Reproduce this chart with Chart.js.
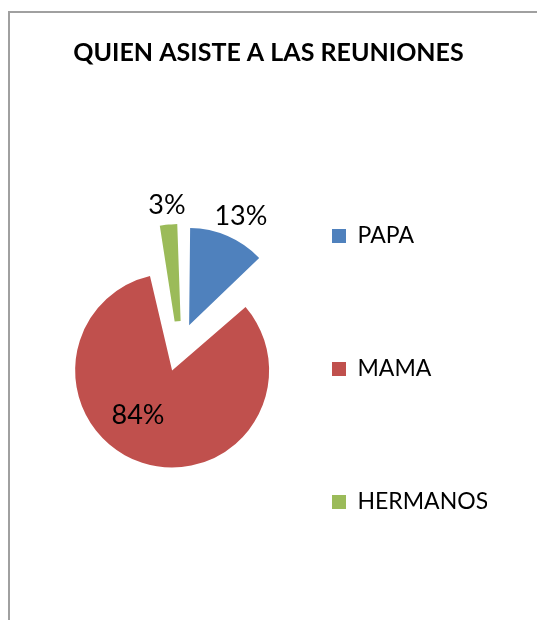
<!DOCTYPE html>
<html><head><meta charset="utf-8">
<script src="https://cdn.jsdelivr.net/npm/chart.js@4.4.1/dist/chart.umd.min.js"></script>
<style>
html,body{margin:0;padding:0;background:#fff;overflow:hidden}
#wrap{position:relative;width:537px;height:620px;overflow:hidden}
#frame{position:absolute;left:8px;top:11px;width:700px;height:800px;border-left:2px solid #a0a0a0;border-top:2px solid #a0a0a0;pointer-events:none}
canvas{position:absolute;left:0;top:0}
</style></head><body>
<div id="wrap">
<canvas id="c" width="537" height="620"></canvas>
<canvas id="c1" width="537" height="620"></canvas>
<canvas id="c2" width="537" height="620"></canvas>
<div id="frame"></div>
</div>
<script>
const titleText = 'QUIEN ASISTE A LAS REUNIONES';
const categories = ['PAPA', 'MAMA', 'HERMANOS'];
const percentages = [13, 84, 3];
const valueLabels = ['13%', '84%', '3%'];
const sliceColors = ['#4F81BD', '#C0504D', '#9BBB59'];

const NONE = 'rgba(0,0,0,0)';
const LEFT_PAD = 50, LEGEND_W = 177, TITLE_H = 72.5, BOTTOM_PAD = -3.5;

const sliceLabelPlugin = {
  id: 'sliceLabels',
  afterDatasetsDraw(chart, args, opts) {
    const meta = chart.getDatasetMeta(0);
    const ctx = chart.ctx;
    ctx.save();
    ctx.font = opts.font;
    ctx.fillStyle = opts.color;
    ctx.textAlign = 'center';
    ctx.textBaseline = 'middle';
    meta.data.forEach((arc, i) => {
      const p = arc.getProps(['x', 'y', 'startAngle', 'endAngle', 'outerRadius'], true);
      const pl = opts.place[i];
      const a = (p.startAngle + p.endAngle) / 2 + pl.turn * Math.PI / 180;
      const d = pl.dist * p.outerRadius;
      ctx.fillText(valueLabels[i], p.x + Math.cos(a) * d, p.y + Math.sin(a) * d + opts.dy);
    });
    ctx.restore();
  }
};

function pieDataset(showIndex, radius, offset, border) {
  const cols = sliceColors.map((c, i) => (i === showIndex ? c : NONE));
  return {
    data: percentages,
    backgroundColor: cols,
    borderColor: cols,
    borderWidth: border || 0,
    borderJoinStyle: 'miter',
    offset: offset,
    radius: radius,
    clip: false
  };
}

// main chart: title, legend, labels and the MAMA slice
new Chart(document.getElementById('c'), {
  type: 'pie',
  data: { labels: categories.map(c => [c]), datasets: [pieDataset(1, 71.5, 102)] },
  options: {
    responsive: false,
    animation: false,
    devicePixelRatio: 1,
    events: [],
    layout: { padding: { left: LEFT_PAD, right: LEFT_PAD, top: 0, bottom: BOTTOM_PAD } },
    plugins: {
      title: {
        display: true,
        text: titleText,
        color: '#000',
        font: { family: 'Lato', size: 25, weight: 'bold', lineHeight: 1.2 },
        padding: { top: 38, bottom: TITLE_H - 30 - 38 }
      },
      legend: {
        position: 'right',
        align: 'end',
        maxWidth: LEGEND_W,
        labels: {
          boxWidth: 14,
          boxHeight: 14,
          padding: 22,
          color: '#000',
          font: { family: 'Lato', size: 23, lineHeight: '111px' },
          generateLabels(chart) {
            const items = Chart.overrides.pie.plugins.legend.labels.generateLabels(chart);
            return items.map((it, i) => Object.assign(it, { fillStyle: sliceColors[i], strokeStyle: sliceColors[i], lineWidth: 0 }));
          }
        }
      },
      tooltip: { enabled: false },
      sliceLabels: {
        font: '27px Lato',
        color: '#000',
        dy: 3,
        place: [{ dist: 2.046, turn: 1.2 }, { dist: 1.094, turn: 14.5 }, { dist: 2.022, turn: 0.2 }]
      }
    }
  },
  plugins: [sliceLabelPlugin]
});

// overlay charts: same pie, same centre, one slice each with its own radius
function overlay(id, showIndex, radius, offset, border) {
  new Chart(document.getElementById(id), {
    type: 'pie',
    data: { labels: categories, datasets: [pieDataset(showIndex, radius, offset, border)] },
    options: {
      responsive: false,
      animation: false,
      devicePixelRatio: 1,
      events: [],
      layout: { padding: { left: LEFT_PAD, right: LEFT_PAD + LEGEND_W, top: TITLE_H, bottom: BOTTOM_PAD } },
      plugins: { legend: { display: false }, title: { display: false }, tooltip: { enabled: false } }
    }
  });
}
overlay('c1', 0, 90.8, 92, 0);
overlay('c2', 2, 73.5, 101, 6);
</script>
</body></html>
